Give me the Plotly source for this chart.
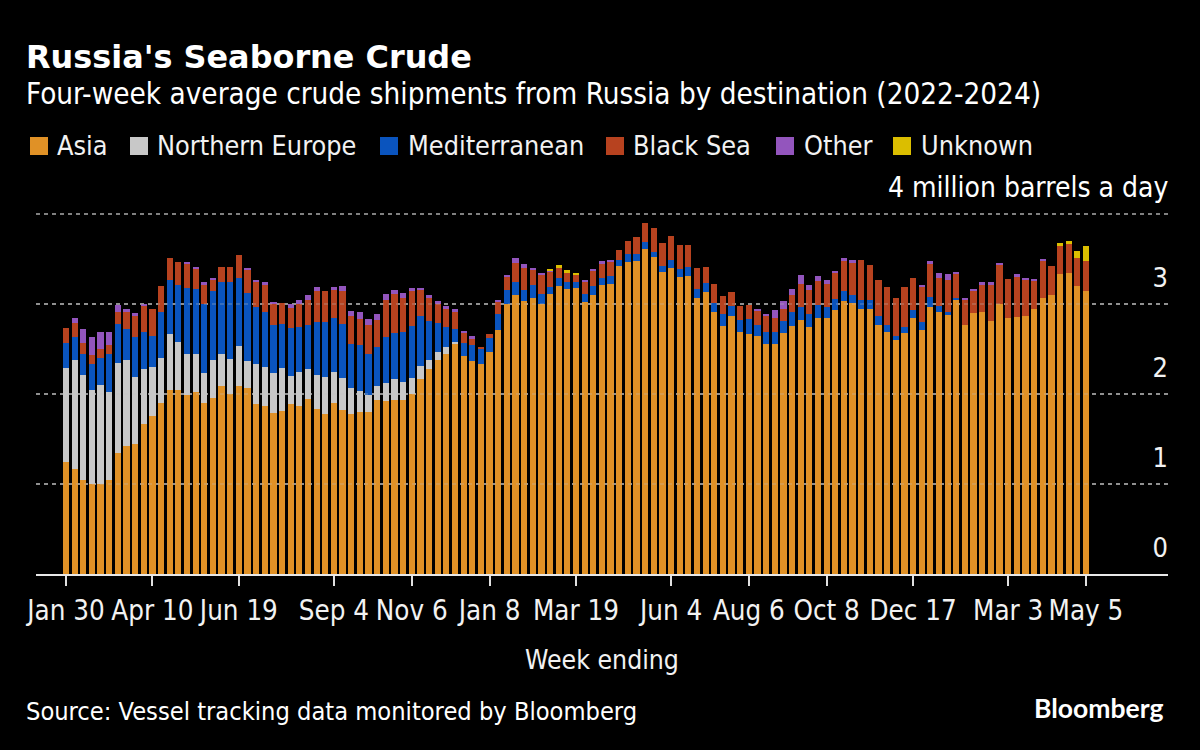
import pandas as pd
import plotly.graph_objects as go

weeks = [d.strftime("%Y-%m-%d") for d in pd.date_range("2022-01-30", "2024-05-05", freq="7D")]

asia = [1.25,1.17,1.04,1.00,1.00,1.04,1.35,1.42,1.45,1.67,1.76,1.90,2.04,2.04,1.99,2.02,1.90,1.96,2.09,2.00,
        2.09,2.07,1.89,1.87,1.79,1.81,1.89,1.87,1.94,1.83,1.78,1.90,1.82,1.78,1.80,1.80,1.93,1.92,1.93,1.93,
        2.00,2.17,2.28,2.38,2.45,2.56,2.42,2.37,2.33,2.47,2.71,3.00,3.10,3.03,3.07,3.00,3.11,3.20,3.17,3.18,
        3.02,3.10,3.21,3.22,3.42,3.47,3.48,3.61,3.52,3.36,3.40,3.30,3.31,3.07,3.13,2.91,2.76,2.87,2.69,2.67,
        2.65,2.56,2.56,2.68,2.76,2.82,2.74,2.84,2.84,2.93,3.03,3.01,2.94,2.94,2.77,2.69,2.60,2.68,2.84,2.71,
        2.97,2.91,2.88,3.04,2.77,2.90,2.91,2.81,3.00,2.84,2.86,2.87,2.95,3.07,3.10,3.33,3.35,3.20,3.14]
northern_europe = [1.04,1.21,1.17,1.04,1.10,0.98,1.00,0.96,0.74,0.61,0.54,0.50,0.63,0.54,0.45,0.42,0.33,0.42,0.36,0.39,
        0.44,0.30,0.44,0.43,0.44,0.48,0.31,0.37,0.34,0.38,0.41,0.35,0.36,0.29,0.23,0.19,0.16,0.20,0.24,0.20,
        0.18,0.14,0.10,0.09,0.07,0.02,0,0,0,0,0,0,0,0,0,0,0,0,0,0,
        0,0,0,0,0,0,0,0,0,0,0,0,0,0,0,0,0,0,0,0,
        0,0,0,0,0,0,0,0,0,0,0,0,0,0,0,0,0,0,0,0,
        0,0,0,0,0,0,0,0,0,0,0,0,0,0,0,0,0,0,0]
mediterranean = [0.28,0.25,0.23,0.29,0.30,0.42,0.43,0.34,0.44,0.41,0.35,0.51,0.60,0.63,0.74,0.73,0.77,0.76,0.80,0.85,
        0.76,0.75,0.64,0.61,0.54,0.49,0.53,0.51,0.49,0.59,0.61,0.59,0.60,0.49,0.51,0.45,0.43,0.51,0.51,0.56,
        0.58,0.56,0.43,0.32,0.22,0.14,0.15,0.17,0.17,0.15,0.18,0.16,0.15,0.13,0.14,0.11,0.08,0.09,0.07,0.07,
        0.09,0.10,0.08,0.09,0.07,0.09,0.08,0.08,0.06,0.06,0.09,0.09,0.10,0.10,0.10,0.10,0.13,0.11,0.13,0.16,
        0.12,0.13,0.13,0.13,0.15,0.15,0.15,0.15,0.13,0.13,0.11,0.09,0.11,0.11,0.10,0.08,0.05,0.06,0.09,0.09,
        0.11,0.07,0.03,0.03,0,0,0,0,0,0,0,0,0,0,0,0,0,0,0]
black_sea = [0.16,0.16,0.13,0.10,0.10,0.11,0.13,0.20,0.24,0.29,0.30,0.29,0.24,0.26,0.26,0.22,0.21,0.13,0.16,0.17,
        0.25,0.26,0.28,0.31,0.23,0.23,0.23,0.25,0.27,0.34,0.35,0.32,0.36,0.31,0.29,0.33,0.30,0.41,0.43,0.38,
        0.39,0.29,0.26,0.22,0.21,0.20,0.11,0.08,0.02,0.05,0.13,0.14,0.21,0.24,0.17,0.22,0.17,0.11,0.11,0.08,
        0.13,0.17,0.16,0.16,0.11,0.14,0.18,0.21,0.26,0.26,0.27,0.27,0.25,0.23,0.18,0.21,0.20,0.15,0.16,0.16,
        0.15,0.18,0.15,0.13,0.19,0.25,0.27,0.27,0.25,0.29,0.34,0.36,0.44,0.38,0.40,0.42,0.42,0.45,0.36,0.39,
        0.37,0.31,0.36,0.26,0.27,0.24,0.30,0.40,0.43,0.44,0.45,0.40,0.31,0.41,0.32,0.32,0.32,0.31,0.34]
other = [0,0.06,0.15,0.20,0.19,0.14,0.08,0.02,0.03,0.02,0,0,0,0,0.03,0.02,0.03,0.02,0,0,
        0,0.02,0.02,0.02,0.02,0,0.04,0.05,0.06,0.05,0,0.03,0.06,0.05,0.08,0.06,0.07,0.07,0.05,0.05,
        0.03,0.02,0.03,0.02,0.03,0.02,0.02,0.02,0,0,0.03,0.02,0.05,0.05,0.02,0.02,0.01,0,0,0,
        0.03,0.02,0.03,0.02,0,0,0,0,0,0,0,0,0,0,0,0,0,0,0,0,
        0.03,0.02,0.09,0.09,0.07,0.10,0.05,0.05,0.05,0.02,0.03,0.03,0,0,0,0,0,0,0,0.02,
        0.03,0.06,0.06,0.03,0.03,0.03,0.03,0.03,0.03,0,0.02,0.02,0.02,0.02,0,0,0,0,0]
unknown = [0]*56 + [0.02,0.03,0.03,0.02] + [0]*55 + [0.03,0.03,0.08,0.16]

series_names = ["Asia", "Northern Europe", "Mediterranean", "Black Sea", "Other", "Unknown"]
series_values = [asia, northern_europe, mediterranean, black_sea, other, unknown]
series_colors = ["#E09126", "#C8C8C8", "#0A54BE", "#B7421F", "#9355BD", "#DBBE00"]

x_tick_dates = ["2022-01-30","2022-04-10","2022-06-19","2022-09-04","2022-11-06","2023-01-08","2023-03-19",
                "2023-06-04","2023-08-06","2023-10-08","2023-12-17","2024-03-03","2024-05-05"]
x_tick_labels = ["Jan 30","Apr 10","Jun 19","Sep 4","Nov 6","Jan 8","Mar 19","Jun 4","Aug 6","Oct 8","Dec 17","Mar 3","May 5"]
y_tick_vals = [0, 1, 2, 3, 4]
y_tick_labels = ["0", "1", "2", "3", ""]
y_unit_label = "4 million barrels a day"

W, H = 1200, 750
L, R, T, B = 36, 1168, 200, 574
Y_TOP = (574 - 200) / 90
FONT = "DejaVu Sans Condensed"
BOLD = "DejaVu Sans"
TEXT = "#F2F2F2"

def px(x):
    return (x - L) / (R - L)

def py(y):
    return (B - y) / (B - T)

fig = go.Figure()
for name, vals, col in zip(series_names, series_values, series_colors):
    fig.add_trace(go.Bar(x=weeks, y=vals, name=name, marker=dict(color=col, line=dict(width=0)),
                         showlegend=False))

legend_pos = [(30, 57), (130, 157), (380, 408), (606, 633), (776, 804), (893, 921)]
shapes = []
annotations = []
for (sx, tx), name, col in zip(legend_pos, series_names, series_colors):
    shapes.append(dict(type="rect", xref="paper", yref="paper", x0=px(sx), x1=px(sx + 18),
                       y0=py(155), y1=py(137), fillcolor=col, line=dict(width=0)))
    annotations.append(dict(text=name, xref="paper", yref="paper", x=px(tx - 2), y=py(145.5), xanchor="left",
                            yanchor="middle", showarrow=False, font=dict(family=FONT, size=26.8, color=TEXT)))

# faint continuation of the dotted grid over the bars
for v in y_tick_vals[1:4]:
    shapes.append(dict(type="line", xref="paper", yref="y", x0=0, x1=1, y0=v, y1=v, layer="above",
                       line=dict(color="rgba(190,190,190,0.25)", width=2, dash="4px,4px")))

def text(s, x, y, size, weight="normal", anchor="left", family=FONT):
    annotations.append(dict(text=s, xref="paper", yref="paper", x=px(x), y=py(y), xanchor=anchor, yanchor="middle",
                            showarrow=False, font=dict(family=family, size=size, color="#FFFFFF", weight=weight)))

text("Russia's Seaborne Crude", 24, 57, 31.9, "bold", family=BOLD)
text("Four-week average crude shipments from Russia by destination (2022-2024)", 24, 94, 29.4)
text("Source: Vessel tracking data monitored by Bloomberg", 24, 711, 25.2)
text(y_unit_label, 1170, 187, 28, anchor="right")
text("Bloomberg", 1165, 708, 26.5, "bold", "right", "Lato")

fig.update_layout(
    width=W, height=H, paper_bgcolor="#000000", plot_bgcolor="#000000",
    margin=dict(l=L, r=W - R, t=T, b=H - B, autoexpand=False),
    barmode="stack", bargap=0.28, showlegend=False,
    font=dict(family=FONT, color=TEXT, size=26),
    shapes=shapes, annotations=annotations,
    xaxis=dict(type="category", categoryorder="array", categoryarray=weeks,
               range=[-3.47, 127.49], tickmode="array", tickvals=x_tick_dates, ticktext=x_tick_labels,
               tickangle=0, ticks="outside", ticklen=10, tickwidth=1.5, tickcolor="#E0E0E0",
               showline=True, linecolor="#E8E8E8", linewidth=1.5, showgrid=False, zeroline=False,
               ticklabelstandoff=1,
               tickfont=dict(family=FONT, size=27.5, color=TEXT),
               title=dict(text="Week ending", standoff=26, font=dict(family=FONT, size=26.4, color=TEXT))),
    yaxis=dict(range=[0, Y_TOP], side="right", tickmode="array", tickvals=y_tick_vals, ticktext=y_tick_labels,
               ticklabelposition="inside", ticklabelshift=-26, ticklabelstandoff=-3, ticks="", showline=False,
               zeroline=False, showgrid=True, gridcolor="#808080", griddash="4px,4px", gridwidth=2,
               tickfont=dict(family=FONT, size=27, color=TEXT)),
)

fig.write_html("out.html", config={"displayModeBar": False}, post_script="document.body.style.margin='0';")
